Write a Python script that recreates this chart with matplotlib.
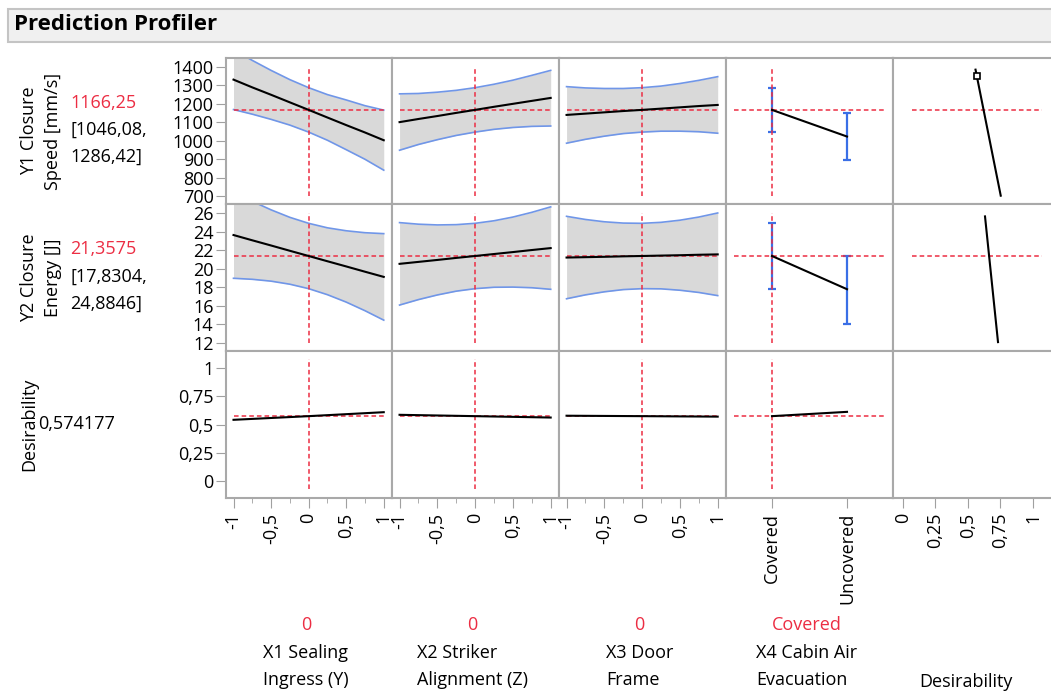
import matplotlib
matplotlib.use("Agg")
import matplotlib.pyplot as plt
from matplotlib.patches import Rectangle

plt.rcParams["font.family"] = ["Open Sans", "DejaVu Sans"]

xs = [-1, -0.75, -0.5, -0.25, 0, 0.25, 0.5, 0.75, 1]
xs_d = [-1, 0, 1]
factor_names = ["X1 Sealing\nIngress (Y)", "X2 Striker\nAlignment (Z)",
                "X3 Door\nFrame", "X4 Cabin Air\nEvacuation"]
factor_current = ["0", "0", "0", "Covered"]
x4_levels = ["Covered", "Uncovered"]

y1_pred = [[1330, 1288, 1248, 1207, 1166.25, 1125, 1084, 1044, 1002],
           [1100, 1117, 1133, 1150, 1166.25, 1183, 1199, 1215, 1231],
           [1139, 1146, 1153, 1160, 1166.25, 1173, 1180, 1187, 1193]]
y1_hi = [[1492, 1434, 1380, 1330, 1286.42, 1249, 1220, 1189, 1165],
         [1253, 1255, 1262, 1272, 1286.42, 1305, 1327, 1353, 1380],
         [1292, 1285, 1282, 1282, 1286.42, 1295, 1309, 1326, 1346]]
y1_lo = [[1168, 1143, 1115, 1084, 1046.08, 1002, 951, 899, 840],
         [948, 979, 1005, 1028, 1046.08, 1061, 1071, 1077, 1079],
         [986, 1007, 1024, 1038, 1046.08, 1051, 1051, 1048, 1040]]

y2_pred = [[23.62, 23.05, 22.49, 21.92, 21.3575, 20.79, 20.23, 19.66, 19.10],
           [20.51, 20.72, 20.93, 21.15, 21.3575, 21.57, 21.78, 22.00, 22.21],
           [21.19, 21.23, 21.27, 21.32, 21.3575, 21.40, 21.44, 21.49, 21.53]]
y2_hi = [[28.29, 27.26, 26.34, 25.53, 24.8846, 24.40, 24.08, 23.87, 23.77],
         [24.96, 24.79, 24.71, 24.74, 24.8846, 25.16, 25.56, 26.07, 26.66],
         [25.64, 25.30, 25.05, 24.91, 24.8846, 24.99, 25.22, 25.56, 26.00]]
y2_lo = [[18.95, 18.84, 18.64, 18.31, 17.8304, 17.18, 16.38, 15.45, 14.43],
         [16.06, 16.65, 17.15, 17.56, 17.8304, 17.98, 18.00, 17.93, 17.76],
         [16.74, 17.16, 17.49, 17.73, 17.8304, 17.81, 17.66, 17.42, 17.08]]

desir_pred = [[0.542, 0.574177, 0.609],
              [0.586, 0.574177, 0.562],
              [0.578, 0.574177, 0.570]]

x4_y1_pred = [1166.25, 1022]
x4_y1_lo = [1046.08, 896]
x4_y1_hi = [1286.42, 1149]
x4_y2_pred = [21.3575, 17.77]
x4_y2_lo = [17.8304, 13.97]
x4_y2_hi = [24.8846, 21.37]
x4_desir = [0.574177, 0.612]

# desirability functions (x = desirability, y = response)
d1_x = [0.558, 0.752]
d1_y = [1384, 702]
d1_mark = (0.567, 1348)
d2_x = [0.631, 0.731]
d2_y = [25.63, 12.06]

current = [1166.25, 21.3575, 0.574177]
resp_names = ["Y1 Closure\nSpeed [mm/s]", "Y2 Closure\nEnergy [J]", "Desirability"]
resp_text = [["1166,25", "[1046,08,", "1286,42]"],
             ["21,3575", "[17,8304,", "24,8846]"]]

y_ticks = [[700, 800, 900, 1000, 1100, 1200, 1300, 1400],
           [12, 14, 16, 18, 20, 22, 24, 26],
           [0, 0.25, 0.5, 0.75, 1]]
y_labels = [[str(t) for t in y_ticks[0]],
            [str(t) for t in y_ticks[1]],
            ["0", "0,25", "0,5", "0,75", "1"]]
cont_ticks = [-1, -0.5, 0, 0.5, 1]
cont_labels = ["-1", "-0,5", "0", "0,5", "1"]
d_ticks = [0, 0.25, 0.5, 0.75, 1]
d_labels = ["0", "0,25", "0,5", "0,75", "1"]

# --- styling ---
W, H = 1051, 692
RED = "#ec2d43"
BLUE_CI = "#7096e8"
BLUE_EB = "#3a6fe6"
BAND = "#d9d9d9"
FRAME = "#a9a9a9"
FS = 13

col_edges = [226, 392, 559, 726, 893, 1060]
row_edges = [58, 204, 351, 497.5]
ylims = [(657, 1447), (11.1, 26.97), (-0.141, 1.147)]
vline_span = [(700, 1400), (12, 26), (-0.07, 1.08)]
cont_xlim = (-1.1, 1.11)
cat_xlim = (-0.613, 1.613)
d_xlim = (-0.077, 1.208)

fig = plt.figure(figsize=(W / 100, H / 100), dpi=100)


def px_axes(x0, y0, x1, y1):
    return fig.add_axes([x0 / W, 1 - y1 / H, (x1 - x0) / W, (y1 - y0) / H])


def ftext(x, y, s, **kw):
    kw.setdefault("fontsize", FS)
    return fig.text(x / W, 1 - y / H, s, **kw)


# title bar
fig.patches.append(Rectangle((8 / W, 1 - 41.5 / H), (1060 - 8) / W, 32.5 / H,
                             transform=fig.transFigure, fc="#f0f0f0",
                             ec="#c4c4c4", lw=1.5, zorder=0))
ftext(14, 25, "Prediction Profiler", fontsize=16, fontweight="bold", va="center")

dash = dict(color=RED, lw=1.1, ls=(0, (3, 2)), zorder=3)

for r in range(3):
    for c in range(5):
        ax = px_axes(col_edges[c], row_edges[r], col_edges[c + 1], row_edges[r + 1])
        ax.set_ylim(*ylims[r])
        for s in ax.spines.values():
            s.set_color(FRAME)
            s.set_linewidth(1.5)
        ax.tick_params(which="both", direction="out", color="#a0a0a0",
                       labelsize=FS, pad=2)
        ax.tick_params(which="major", length=7)
        ax.tick_params(which="minor", length=3.5)

        if c < 3:
            ax.set_xlim(*cont_xlim)
            if r == 0:
                ax.fill_between(xs, y1_lo[c], y1_hi[c], color=BAND, lw=0, zorder=1)
                ax.plot(xs, y1_hi[c], color=BLUE_CI, lw=1.2, zorder=2)
                ax.plot(xs, y1_lo[c], color=BLUE_CI, lw=1.2, zorder=2)
                ax.plot(xs, y1_pred[c], color="black", lw=1.5, zorder=4)
            elif r == 1:
                ax.fill_between(xs, y2_lo[c], y2_hi[c], color=BAND, lw=0, zorder=1)
                ax.plot(xs, y2_hi[c], color=BLUE_CI, lw=1.2, zorder=2)
                ax.plot(xs, y2_lo[c], color=BLUE_CI, lw=1.2, zorder=2)
                ax.plot(xs, y2_pred[c], color="black", lw=1.5, zorder=4)
            else:
                ax.plot(xs_d, desir_pred[c], color="black", lw=1.5, zorder=4)
            ax.plot([-1, 1], [current[r]] * 2, **dash)
            ax.plot([0, 0], vline_span[r], **dash)
        elif c == 3:
            ax.set_xlim(*cat_xlim)
            pos = list(range(len(x4_levels)))
            if r < 2:
                pr = [x4_y1_pred, x4_y2_pred][r]
                lo = [x4_y1_lo, x4_y2_lo][r]
                hi = [x4_y1_hi, x4_y2_hi][r]
                ax.errorbar(pos, pr, yerr=[[p - l for p, l in zip(pr, lo)],
                                           [h - p for p, h in zip(pr, hi)]],
                            fmt="none", ecolor=BLUE_EB, elinewidth=1.6,
                            capsize=3, capthick=1.6, zorder=2)
                ax.plot(pos, pr, color="black", lw=1.5, zorder=4)
            else:
                ax.plot(pos, x4_desir, color="black", lw=1.5, zorder=4)
            ax.plot([-0.5, 1.5], [current[r]] * 2, **dash)
            ax.plot([0, 0], vline_span[r], **dash)
        else:
            ax.set_xlim(*d_xlim)
            if r == 0:
                ax.plot(d1_x, d1_y, color="black", lw=1.5, zorder=4)
                ax.plot(*d1_mark, marker="s", ms=5, mfc="white", mec="black",
                        mew=1.2, zorder=5)
            elif r == 1:
                ax.plot(d2_x, d2_y, color="black", lw=1.5, zorder=4)
            if r < 2:
                ax.plot([0.067, 1.067], [current[r]] * 2, **dash)

        # y axis only on first column
        if c == 0:
            ax.set_yticks(y_ticks[r])
            ax.set_yticklabels(y_labels[r])
        else:
            ax.set_yticks([])

        # x axis only on bottom row
        if r == 2:
            if c < 3:
                ax.set_xticks(cont_ticks)
                ax.set_xticklabels(cont_labels, rotation=90)
                ax.set_xticks([-0.75, -0.25, 0.25, 0.75], minor=True)
            elif c == 3:
                ax.set_xticks(range(len(x4_levels)))
                ax.set_xticklabels(x4_levels, rotation=90)
            else:
                ax.set_xticks(d_ticks)
                ax.set_xticklabels(d_labels, rotation=90)
            ax.tick_params(axis="x", pad=4)
        else:
            ax.set_xticks([])

# response labels on the left
row_mid = [(row_edges[i] + row_edges[i + 1]) / 2 for i in range(3)]
for r in range(3):
    ftext(20, row_mid[r], resp_names[r], rotation=90, ha="left", va="center",
          multialignment="center", linespacing=1.45)
for r in range(2):
    for k, s in enumerate(resp_text[r]):
        ftext(70, row_mid[r] - 28 + 27 * k, s, va="center",
              color=RED if k == 0 else "black")
ftext(38, row_mid[2], "0,574177", va="center")

# factor labels at the bottom
for c in range(4):
    cx = (col_edges[c] + col_edges[c + 1]) / 2
    ftext(cx - 3, 625, factor_current[c], ha="center", va="center", color=RED)
    ftext(cx - 3, 644, factor_names[c], ha="center", va="top",
          multialignment="left", linespacing=1.62)
ftext(966, 682, "Desirability", ha="center", va="center")

fig.savefig("out.png", dpi=100)
